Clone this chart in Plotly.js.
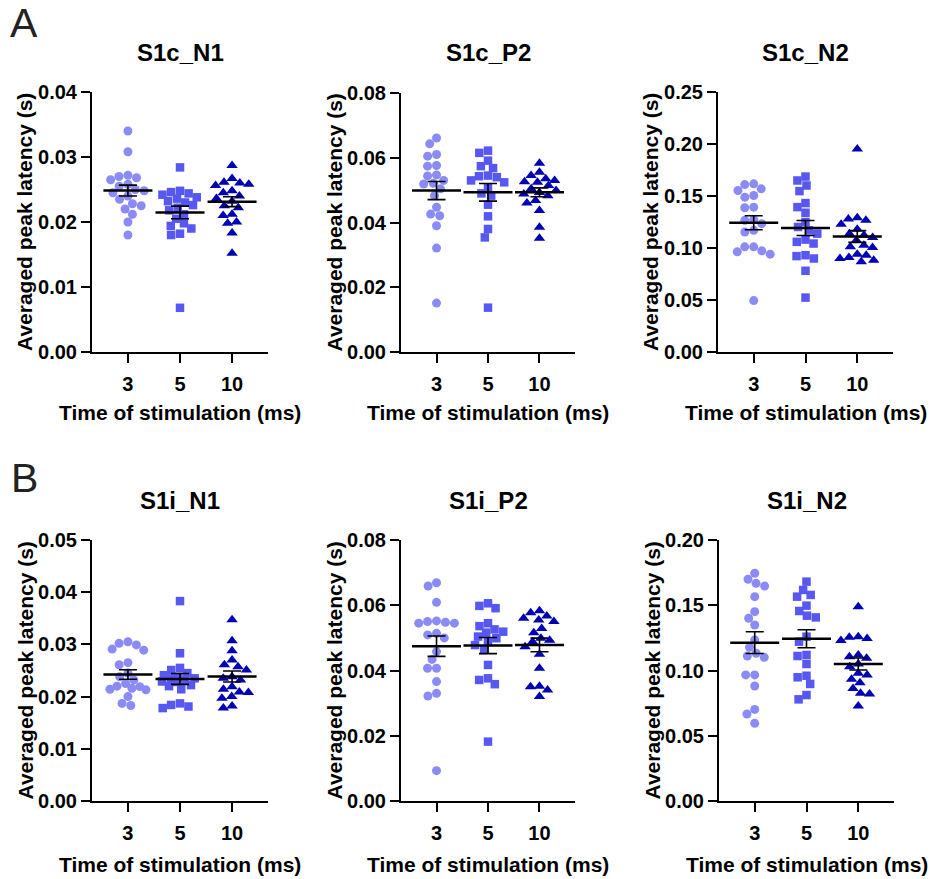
<!DOCTYPE html>
<html><head><meta charset="utf-8">
<script src="https://cdn.plot.ly/plotly-3.0.1.min.js"></script>
<style>body{margin:0;background:#fff}#chart{width:931px;height:879px}</style>
</head><body><div id="chart"></div>
<script>
// ---------------- data ----------------
const groups = ['3', '5', '10'];
const panelTitles = ['S1c_N1', 'S1c_P2', 'S1c_N2', 'S1i_N1', 'S1i_P2', 'S1i_N2'];
const yMax = [0.04, 0.08, 0.25, 0.05, 0.08, 0.20];
const yStep = [0.01, 0.02, 0.05, 0.01, 0.02, 0.05];

const s1cN1_3 = [0.0340,0.0308,0.0272,0.0270,0.0268,0.0265,0.0258,0.0255,0.0250,0.0248,0.0245,0.0240,0.0235,0.0228,0.0225,0.0220,0.0212,0.0200,0.0180];
const s1cN1_5 = [0.0284,0.0248,0.0246,0.0244,0.0242,0.0238,0.0236,0.0232,0.0230,0.0226,0.0222,0.0218,0.0212,0.0205,0.0198,0.0194,0.0190,0.0182,0.0180,0.0068];
const s1cN1_10 = [0.0287,0.0267,0.0261,0.0260,0.0258,0.0256,0.0248,0.0245,0.0240,0.0236,0.0232,0.0225,0.0222,0.0212,0.0210,0.0200,0.0198,0.0183,0.0152];

const s1cP2_3 = [0.0661,0.0643,0.0610,0.0605,0.0576,0.0574,0.0547,0.0544,0.0530,0.0521,0.0519,0.0504,0.0483,0.0447,0.0426,0.0421,0.0390,0.0321,0.0151];
const s1cP2_5 = [0.0622,0.0615,0.0591,0.0574,0.0568,0.0545,0.0543,0.0540,0.0530,0.0524,0.0509,0.0490,0.0483,0.0455,0.0419,0.0380,0.0354,0.0137];
const s1cP2_10 = [0.0583,0.0555,0.0545,0.0535,0.0530,0.0526,0.0524,0.0514,0.0504,0.0499,0.0493,0.0488,0.0483,0.0468,0.0460,0.0437,0.0385,0.0351];

const s1cN2_3 = [0.1617,0.1610,0.1569,0.1553,0.1505,0.1489,0.1393,0.1387,0.1272,0.1266,0.1234,0.1170,0.1154,0.1011,0.1011,0.0973,0.0963,0.0941,0.0494];
const s1cN2_5 = [0.1687,0.1649,0.1601,0.1547,0.1432,0.1393,0.1339,0.1250,0.1202,0.1170,0.1138,0.1081,0.1059,0.1043,0.0931,0.0922,0.0899,0.0781,0.0523];
const s1cN2_10 = [0.1952,0.1291,0.1280,0.1266,0.1228,0.1180,0.1138,0.1122,0.1100,0.1075,0.1027,0.1011,0.1004,0.0941,0.0931,0.0909,0.0899,0.0883,0.0867];

const s1iN1_3 = [0.0305,0.0302,0.0299,0.0291,0.0289,0.0265,0.0261,0.0245,0.0238,0.0232,0.0225,0.0220,0.0219,0.0216,0.0214,0.0213,0.0200,0.0187,0.0183];
const s1iN1_5 = [0.0383,0.0283,0.0255,0.0251,0.0245,0.0241,0.0238,0.0235,0.0235,0.0232,0.0229,0.0228,0.0222,0.0220,0.0214,0.0187,0.0184,0.0181,0.0178];
const s1iN1_10 = [0.0347,0.0307,0.0288,0.0270,0.0261,0.0257,0.0251,0.0238,0.0235,0.0232,0.0219,0.0214,0.0209,0.0208,0.0200,0.0197,0.0182,0.0178];

const s1iP2_3 = [0.0669,0.0659,0.0609,0.0552,0.0550,0.0548,0.0545,0.0545,0.0514,0.0509,0.0500,0.0458,0.0434,0.0407,0.0407,0.0366,0.0330,0.0322,0.0093];
const s1iP2_5 = [0.0606,0.0598,0.0591,0.0545,0.0536,0.0526,0.0519,0.0516,0.0504,0.0499,0.0488,0.0478,0.0463,0.0417,0.0376,0.0371,0.0358,0.0182];
const s1iP2_10 = [0.0583,0.0577,0.0567,0.0560,0.0555,0.0550,0.0529,0.0516,0.0499,0.0493,0.0488,0.0473,0.0450,0.0407,0.0352,0.0350,0.0340,0.0320];

const s1iN2_3 = [0.1745,0.1699,0.1668,0.1647,0.1566,0.1451,0.1400,0.1349,0.1234,0.1178,0.1132,0.1111,0.1101,0.0966,0.0966,0.0881,0.0702,0.0667,0.0595];
const s1iN2_5 = [0.1681,0.1617,0.1579,0.1566,0.1497,0.1456,0.1420,0.1407,0.1259,0.1221,0.1119,0.1111,0.1050,0.0960,0.0948,0.0897,0.0812,0.0779];
const s1iN2_10 = [0.1489,0.1259,0.1254,0.1246,0.1229,0.1119,0.1106,0.1093,0.1050,0.1029,0.0978,0.0966,0.0932,0.0907,0.0863,0.0825,0.0820,0.0728];

const panelData = [
  [s1cN1_3, s1cN1_5, s1cN1_10],
  [s1cP2_3, s1cP2_5, s1cP2_10],
  [s1cN2_3, s1cN2_5, s1cN2_10],
  [s1iN1_3, s1iN1_5, s1iN1_10],
  [s1iP2_3, s1iP2_5, s1iP2_10],
  [s1iN2_3, s1iN2_5, s1iN2_10]
];

// ---------------- styling / layout ----------------
const W = 931, H = 879;
const FONT = 'Arial, "Liberation Sans", Helvetica, sans-serif';
const colors = ['#8b8bf7', '#5757f2', '#0000b5'];
const symbols = ['circle', 'square', 'triangle-up'];
const msizes = [9, 8.5, 10];
// plot boxes in pixels [left, right, top, bottom]
const boxes = [
  [92, 268, 92, 352], [401, 575, 93, 352], [718, 893, 92, 352],
  [92, 268, 540, 801], [401, 575, 540, 801], [719, 894, 540, 801]
];
const XR = [-0.69, 2.69];

function mean(a) { return a.reduce((s, v) => s + v, 0) / a.length; }
function sem(a) {
  const m = mean(a);
  const v = a.reduce((s, x) => s + (x - m) * (x - m), 0) / (a.length - 1);
  return Math.sqrt(v) / Math.sqrt(a.length);
}
// beeswarm offsets (pixels) computed from values, limited to a max half-width
function swarm(vals, pxPerY, D, maxW) {
  const idx = vals.map((v, i) => i).sort((a, b) => vals[b] - vals[a]);
  const placed = [];
  const out = new Array(vals.length).fill(0);
  idx.forEach(i => {
    const y = vals[i] * pxPerY;
    const near = placed.filter(p => Math.abs(p.y - y) < D);
    const cands = [0];
    near.forEach(p => {
      const dx = Math.sqrt(D * D - (p.y - y) * (p.y - y));
      cands.push(p.x + dx, p.x - dx);
    });
    cands.sort((a, b) => Math.abs(a) - Math.abs(b) || a - b);
    let xs = null;
    for (const c of cands) {
      if (Math.abs(c) > maxW) continue;
      if (near.every(p => (p.x - c) * (p.x - c) + (p.y - y) * (p.y - y) >= D * D - 0.01)) { xs = c; break; }
    }
    if (xs === null) {
      // no free slot inside the band: take the slot with the least overlap
      let best = 0, bestD = -1;
      for (let c = -maxW; c <= maxW; c += 1) {
        const md = Math.min(...near.map(p => Math.hypot(p.x - c, p.y - y)));
        if (md > bestD) { bestD = md; best = c; }
      }
      xs = best;
    }
    placed.push({ x: xs, y: y });
    out[i] = xs;
  });
  return out;
}

const traces = [];
const layout = {
  width: W, height: H, margin: { l: 0, r: 0, t: 0, b: 0 },
  paper_bgcolor: '#fff', plot_bgcolor: '#fff', showlegend: false,
  font: { family: FONT, color: '#000' },
  annotations: []
};
const px2x = x => x / W, py2y = y => 1 - y / H;

panelData.forEach((pd, p) => {
  const b = boxes[p];
  const n = p + 1;
  const xa = 'x' + (n === 1 ? '' : n), ya = 'y' + (n === 1 ? '' : n);
  const pxPerX = (b[1] - b[0]) / (XR[1] - XR[0]);
  const pxPerY = (b[3] - b[2]) / yMax[p];
  pd.forEach((vals, g) => {
    const off = swarm(vals, pxPerY, 9, 18);
    traces.push({
      type: 'scatter', mode: 'markers', xaxis: xa, yaxis: ya,
      x: vals.map((v, i) => g + off[i] / pxPerX), y: vals,
      marker: { symbol: symbols[g], size: msizes[g], color: colors[g], line: { width: 0 } },
      hoverinfo: 'y'
    });
  });
  traces.push({
    type: 'scatter', mode: 'markers', xaxis: xa, yaxis: ya,
    x: [0, 1, 2], y: pd.map(mean),
    marker: { symbol: 'line-ew', size: 35, color: '#000', line: { width: 2.5, color: '#000' } },
    error_y: { type: 'data', array: pd.map(sem), visible: true, color: '#000', thickness: 1.6, width: 9 },
    hoverinfo: 'y'
  });
  const axCommon = {
    showline: true, linewidth: 2, linecolor: '#000', ticks: 'outside', ticklen: 9, tickwidth: 2,
    tickcolor: '#000', showgrid: false, zeroline: false, fixedrange: true,
    tickfont: { family: FONT, size: 20, weight: 'bold', color: '#000' }
  };
  layout['xaxis' + (n === 1 ? '' : n)] = Object.assign({}, axCommon, {
    domain: [px2x(b[0]), px2x(b[1])], range: XR, tickmode: 'array',
    tickvals: [0, 1, 2], ticktext: groups, anchor: ya, ticklabelstandoff: 4
  });
  layout['yaxis' + (n === 1 ? '' : n)] = Object.assign({}, axCommon, {
    domain: [py2y(b[3]), py2y(b[2])], range: [0, yMax[p]], dtick: yStep[p], tick0: 0,
    tickformat: '.2f', anchor: xa
  });
  const cx = (b[0] + b[1]) / 2;
  layout.annotations.push({
    xref: 'paper', yref: 'paper', x: px2x(cx), y: py2y(p < 3 ? 53 : 500),
    text: '<b>' + panelTitles[p] + '</b>', showarrow: false, xanchor: 'center', yanchor: 'middle',
    font: { family: FONT, size: 24, color: '#000' }
  });
  layout.annotations.push({
    xref: 'paper', yref: 'paper', x: px2x(cx), y: py2y(p < 3 ? 412 : 864),
    text: '<b>Time of stimulation (ms)</b>', showarrow: false, xanchor: 'center', yanchor: 'middle',
    font: { family: FONT, size: 21, color: '#000' }
  });
  layout.annotations.push({
    xref: 'paper', yref: 'paper', x: px2x(b[0] - 67), y: py2y((b[2] + b[3]) / 2),
    text: '<b>Averaged peak latency (s)</b>', showarrow: false, textangle: -90,
    xanchor: 'center', yanchor: 'middle',
    font: { family: FONT, size: 21, color: '#000' }
  });
});
layout.annotations.push({
  xref: 'paper', yref: 'paper', x: px2x(24), y: py2y(23), text: 'A', showarrow: false,
  xanchor: 'center', yanchor: 'middle', font: { family: FONT, size: 41, color: '#222' }
});
layout.annotations.push({
  xref: 'paper', yref: 'paper', x: px2x(24), y: py2y(478), text: 'B', showarrow: false,
  xanchor: 'center', yanchor: 'middle', font: { family: FONT, size: 41, color: '#222' }
});

Plotly.newPlot('chart', traces, layout, { staticPlot: true, displayModeBar: false });
</script>
</body></html>
